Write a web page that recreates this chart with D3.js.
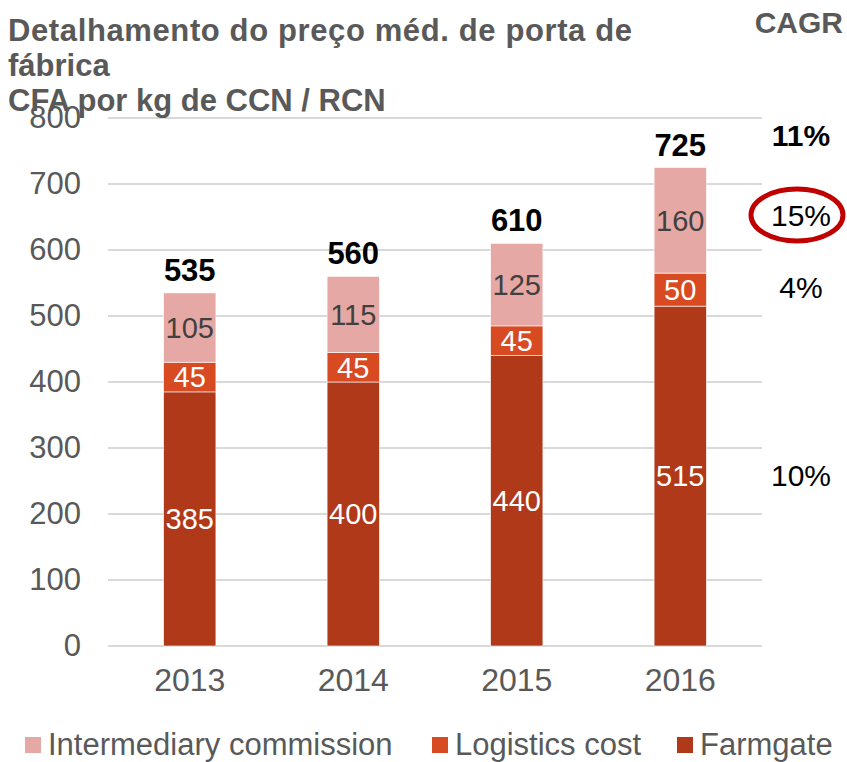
<!DOCTYPE html>
<html><head><meta charset="utf-8">
<script src="https://cdn.jsdelivr.net/npm/d3@7"></script>
<style>body{margin:0;background:#fff}svg{display:block;font-family:"Liberation Sans",Arial,sans-serif}</style>
</head><body><svg id="c" width="847" height="762"></svg>
<script>
const years = ["2013","2014","2015","2016"];
const farmgate = [385,400,440,515];
const logistics = [45,45,45,50];
const commission = [105,115,125,160];
const totals = [535,560,610,725];
const yTicks = [0,100,200,300,400,500,600,700,800];
const seriesNames = ["Intermediary commission","Logistics cost","Farmgate"];
const cagrLabels = ["11%","15%","4%","10%"];
const titleLines = ["Detalhamento do preço méd. de porta de","fábrica","CFA por kg de CCN / RCN"];

const colors = {farmgate:"#B0391A", logistics:"#D84A22", commission:"#E6A8A4"};
const svg = d3.select("#c");
const x = d3.scaleBand().domain(years).range([108,762]).paddingInner(0.68).paddingOuter(0.34);
const y = d3.scaleLinear().domain([0,800]).range([646,118]);

// gridlines
svg.append("g").selectAll("line").data(yTicks).join("line")
  .attr("x1",108).attr("x2",762).attr("y1",d=>y(d)).attr("y2",d=>y(d))
  .attr("stroke","#d9d9d9").attr("stroke-width",2);

// y axis labels
const ya = svg.append("g").attr("transform","translate(81,0)")
  .call(d3.axisLeft(y).tickValues(yTicks).tickSize(0).tickPadding(0));
ya.select(".domain").remove();
ya.selectAll("text").attr("font-size",31).attr("fill","#595959").attr("font-family","Liberation Sans, Arial, sans-serif");

// x axis labels
const xa = svg.append("g").attr("transform","translate(0,646)")
  .call(d3.axisBottom(x).tickSize(0).tickPadding(22));
xa.select(".domain").remove();
xa.selectAll("text").attr("font-size",32).attr("fill","#595959").attr("font-family","Liberation Sans, Arial, sans-serif");

// stacked bars
const rows = years.map((yr,i)=>({year:yr, farmgate:farmgate[i], logistics:logistics[i], commission:commission[i]}));
const stack = d3.stack().keys(["farmgate","logistics","commission"])(rows);
const labelColor = {farmgate:"#ffffff", logistics:"#ffffff", commission:"#404040"};
stack.forEach(layer=>{
  const g = svg.append("g");
  g.selectAll("rect").data(layer).join("rect")
    .attr("x",d=>x(d.data.year)).attr("width",x.bandwidth())
    .attr("y",d=>y(d[1])).attr("height",d=>y(d[0])-y(d[1]))
    .attr("fill",colors[layer.key]).attr("stroke","#ffffff").attr("stroke-width",0.6);
  g.selectAll("text").data(layer).join("text")
    .attr("x",d=>x(d.data.year)+x.bandwidth()/2).attr("y",d=>(y(d[0])+y(d[1]))/2)
    .attr("dy","0.36em").attr("text-anchor","middle").attr("font-size",29)
    .attr("fill",labelColor[layer.key]).text(d=>d[1]-d[0]);
});

// totals
svg.append("g").selectAll("text").data(totals).join("text")
  .attr("x",(d,i)=>x(years[i])+x.bandwidth()/2).attr("y",d=>y(d)-12)
  .attr("text-anchor","middle").attr("font-size",31).attr("font-weight","bold").attr("fill","#000").text(d=>d);

// CAGR column
const cagrX = 801;
svg.append("text").attr("x",843).attr("y",33).attr("text-anchor","end").attr("font-size",30)
  .attr("font-weight","bold").attr("fill","#595959").text("CAGR");
const cagrY = [135,215,287,475];
svg.append("g").selectAll("text").data(cagrLabels).join("text")
  .attr("x",cagrX).attr("y",(d,i)=>cagrY[i]).attr("dy","0.36em").attr("text-anchor","middle")
  .attr("font-size",(d,i)=>i===0?30:30).attr("font-weight",(d,i)=>i===0?"bold":"normal").attr("fill","#000").text(d=>d);
svg.append("ellipse").attr("cx",797).attr("cy",215).attr("rx",46).attr("ry",26)
  .attr("fill","none").attr("stroke","#C00000").attr("stroke-width",5);

// title
svg.append("g").selectAll("text").data(titleLines).join("text")
  .attr("x",8).attr("y",(d,i)=>41+i*35).attr("font-size",31).attr("font-weight","bold")
  .attr("fill","#595959").text(d=>d)
  .each(function(d,i){ if(i===0) d3.select(this).attr("textLength",624).attr("lengthAdjust","spacing"); });

// legend
const legX = [25,432,677];
const legColors = [colors.commission, colors.logistics, colors.farmgate];
const leg = svg.append("g").selectAll("g").data(seriesNames).join("g")
  .attr("transform",(d,i)=>`translate(${legX[i]},0)`);
leg.append("rect").attr("x",0).attr("y",737).attr("width",16).attr("height",16).attr("fill",(d,i)=>legColors[i]);
leg.append("text").attr("x",23).attr("y",755).attr("font-size",31).attr("fill","#595959").text(d=>d);
</script></body></html>
